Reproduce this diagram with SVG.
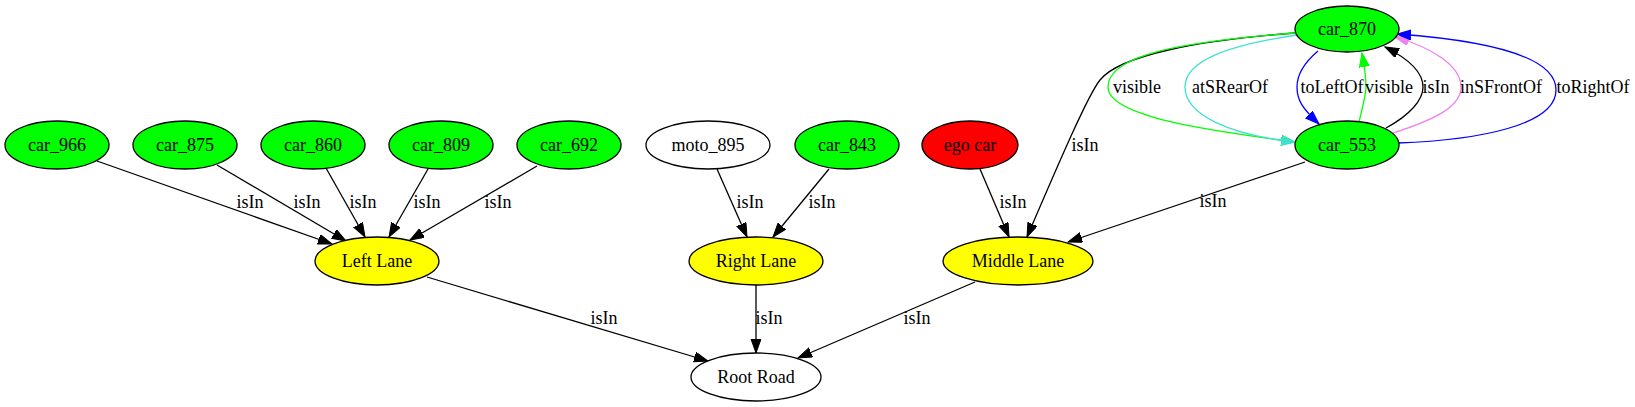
<svg xmlns="http://www.w3.org/2000/svg" width="1635" height="407" viewBox="0 0 1635 407" font-family="'Liberation Serif', 'Times New Roman', serif">
<style>
.n ellipse{stroke:#000;stroke-width:1.3}
text{font-family:'Liberation Serif','Times New Roman',serif;font-size:18px;text-anchor:middle;fill:#000}
.e path{fill:none;stroke-width:1.3}
.k{stroke:#000;marker-end:url(#ak)}
.g{stroke:#00ff00;marker-end:url(#ag)}
.t{stroke:#40e0d0;marker-end:url(#at)}
.b{stroke:#0000ff;marker-end:url(#ab)}
.v{stroke:#ee82ee;marker-end:url(#av)}
</style>
<defs>
<marker id="ak" markerUnits="userSpaceOnUse" markerWidth="16" markerHeight="12" refX="14" refY="5" orient="auto"><path d="M0,0L14,5L0,10z" fill="#000" stroke="#000" stroke-width="1"/></marker>
<marker id="ag" markerUnits="userSpaceOnUse" markerWidth="16" markerHeight="12" refX="14" refY="5" orient="auto"><path d="M0,0L14,5L0,10z" fill="#00ff00" stroke="#00ff00" stroke-width="1"/></marker>
<marker id="at" markerUnits="userSpaceOnUse" markerWidth="16" markerHeight="12" refX="14" refY="5" orient="auto"><path d="M0,0L14,5L0,10z" fill="#40e0d0" stroke="#40e0d0" stroke-width="1"/></marker>
<marker id="ab" markerUnits="userSpaceOnUse" markerWidth="16" markerHeight="12" refX="14" refY="5" orient="auto"><path d="M0,0L14,5L0,10z" fill="#0000ff" stroke="#0000ff" stroke-width="1"/></marker>
<marker id="av" markerUnits="userSpaceOnUse" markerWidth="16" markerHeight="12" refX="14" refY="5" orient="auto"><path d="M0,0L14,5L0,10z" fill="#ee82ee" stroke="#ee82ee" stroke-width="1"/></marker>
</defs>
<rect width="1635" height="407" fill="#fff"/>
<g id="edges" class="e">
<path class="k" d="M97,161L332,244"/>
<path class="k" d="M217,165L346,241"/>
<path class="k" d="M326,168L365,237"/>
<path class="k" d="M428,169L389,237"/>
<path class="k" d="M537,166L410,240"/>
<path class="k" d="M717,169L747,237"/>
<path class="k" d="M829,169L773,237"/>
<path class="k" d="M980,169L1009,237"/>
<path class="k" d="M1305,162L1068,242"/>
<path class="k" d="M427,277L708,361"/>
<path class="k" d="M756,285L756,353"/>
<path class="k" d="M975,282L798,358"/>
<path class="k" d="M1295,33C1200,40 1120,55 1100,80C1088,95 1060,160 1027,237"/>
<path class="g" d="M1295,33C1180,42 1108,55 1108,87C1108,118 1220,132 1295,142"/>
<path class="t" d="M1297,35C1230,45 1185,60 1185,87C1185,115 1230,135 1295,142"/>
<path class="b" d="M1318,51C1305,62 1297,75 1297,87C1297,100 1302,108 1319,124"/>
<path class="g" d="M1359,122C1363,105 1366,95 1366,87C1366,75 1364,65 1362,53"/>
<path class="k" d="M1386,128C1410,115 1423,100 1423,87C1423,70 1405,57 1385,47"/>
<path class="v" d="M1393,133C1440,118 1461,105 1461,87C1461,65 1430,47 1395,37"/>
<path class="b" d="M1398,143C1480,140 1556,125 1556,90C1556,55 1480,40 1397,34"/>
<g id="edge-labels">
<text x="250" y="208">isIn</text>
<text x="307" y="208">isIn</text>
<text x="363" y="208">isIn</text>
<text x="427" y="208">isIn</text>
<text x="498" y="208">isIn</text>
<text x="750" y="208">isIn</text>
<text x="822" y="208">isIn</text>
<text x="1013" y="208">isIn</text>
<text x="1213" y="207">isIn</text>
<text x="1085" y="151">isIn</text>
<text x="604" y="324">isIn</text>
<text x="769" y="324">isIn</text>
<text x="917" y="324">isIn</text>
<text x="1137" y="93">visible</text>
<text x="1230" y="93">atSRearOf</text>
<text x="1332" y="93">toLeftOf</text>
<text x="1389" y="93">visible</text>
<text x="1436" y="93">isIn</text>
<text x="1501" y="93">inSFrontOf</text>
<text x="1593" y="93">toRightOf</text>
</g>
</g>
<g id="car_966" class="n"><ellipse cx="57" cy="145" rx="52" ry="24" fill="#00ff00"/><text x="57" y="151">car_966</text></g>
<g id="car_875" class="n"><ellipse cx="185" cy="145" rx="52" ry="24" fill="#00ff00"/><text x="185" y="151">car_875</text></g>
<g id="car_860" class="n"><ellipse cx="313" cy="145" rx="52" ry="24" fill="#00ff00"/><text x="313" y="151">car_860</text></g>
<g id="car_809" class="n"><ellipse cx="441" cy="145" rx="52" ry="24" fill="#00ff00"/><text x="441" y="151">car_809</text></g>
<g id="car_692" class="n"><ellipse cx="569" cy="145" rx="52" ry="24" fill="#00ff00"/><text x="569" y="151">car_692</text></g>
<g id="moto_895" class="n"><ellipse cx="708" cy="145" rx="62" ry="24" fill="#fff"/><text x="708" y="151">moto_895</text></g>
<g id="car_843" class="n"><ellipse cx="847" cy="145" rx="52" ry="24" fill="#00ff00"/><text x="847" y="151">car_843</text></g>
<g id="ego_car" class="n"><ellipse cx="970" cy="145" rx="48" ry="24" fill="#ff0000"/><text x="970" y="151">ego car</text></g>
<g id="car_870" class="n"><ellipse cx="1347" cy="29" rx="52" ry="23" fill="#00ff00"/><text x="1347" y="35">car_870</text></g>
<g id="car_553" class="n"><ellipse cx="1347" cy="145" rx="52" ry="24" fill="#00ff00"/><text x="1347" y="151">car_553</text></g>
<g id="left_lane" class="n"><ellipse cx="377" cy="261" rx="62" ry="24" fill="#ffff00"/><text x="377" y="267">Left Lane</text></g>
<g id="right_lane" class="n"><ellipse cx="756" cy="261" rx="67" ry="24" fill="#ffff00"/><text x="756" y="267">Right Lane</text></g>
<g id="middle_lane" class="n"><ellipse cx="1018" cy="261" rx="75" ry="24" fill="#ffff00"/><text x="1018" y="267">Middle Lane</text></g>
<g id="root_road" class="n"><ellipse cx="756" cy="377" rx="65" ry="24" fill="#fff"/><text x="756" y="383">Root Road</text></g>
</svg>
